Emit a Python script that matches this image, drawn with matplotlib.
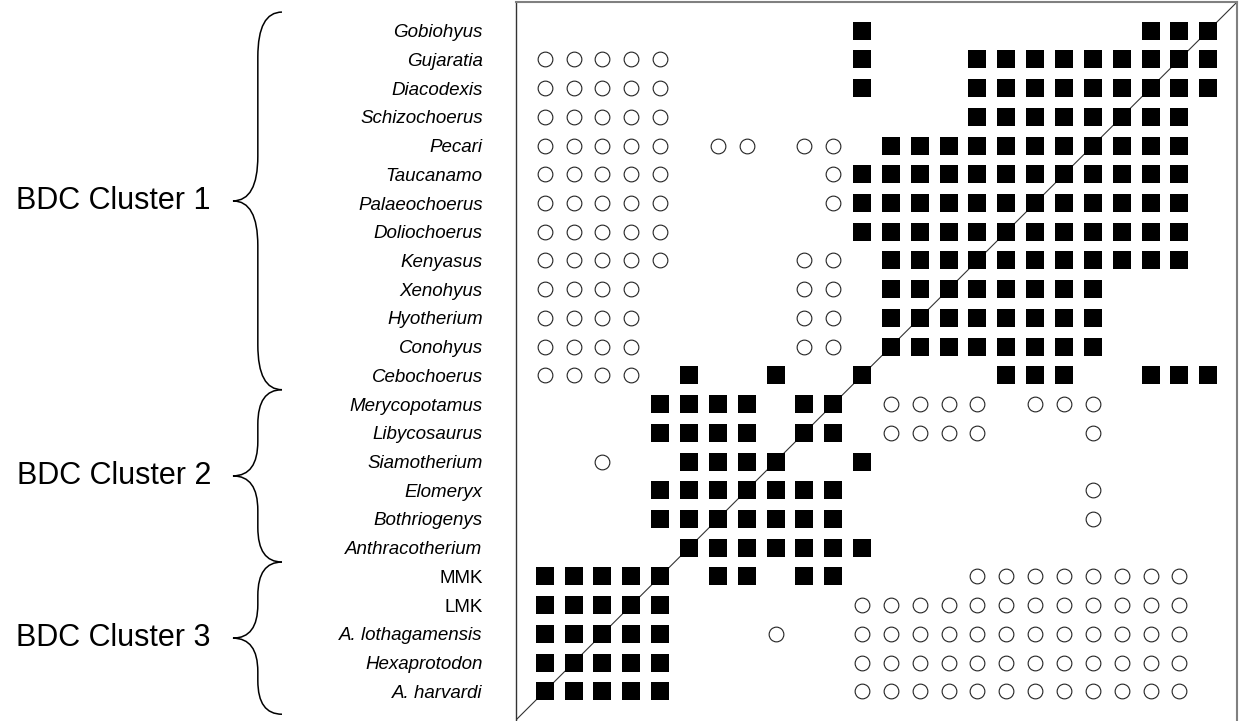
import matplotlib
matplotlib.use("Agg")
import matplotlib.pyplot as plt
from matplotlib.path import Path
from matplotlib.patches import PathPatch
from matplotlib.transforms import blended_transform_factory

plt.rcParams['font.family'] = ['Liberation Sans', 'DejaVu Sans']

# taxa, top to bottom; columns run in the reverse order (A. harvardi first)
taxa = ["Gobiohyus", "Gujaratia", "Diacodexis", "Schizochoerus", "Pecari",
        "Taucanamo", "Palaeochoerus", "Doliochoerus", "Kenyasus", "Xenohyus",
        "Hyotherium", "Conohyus", "Cebochoerus", "Merycopotamus", "Libycosaurus",
        "Siamotherium", "Elomeryx", "Bothriogenys", "Anthracotherium", "MMK",
        "LMK", "A. lothagamensis", "Hexaprotodon", "A. harvardi"]
upright = ["MMK", "LMK"]

# one string per row (same order as taxa): S = filled square, o = open circle
cells = [
    "...........S.........SSS",
    "ooooo......S...SSSSSSSSS",
    "ooooo......S...SSSSSSSSS",
    "ooooo..........SSSSSSSS.",
    "ooooo.oo.oo.SSSSSSSSSSS.",
    "ooooo.....oSSSSSSSSSSSS.",
    "ooooo.....oSSSSSSSSSSSS.",
    "ooooo......SSSSSSSSSSSS.",
    "ooooo....oo.SSSSSSSSSSS.",
    "oooo.....oo.SSSSSSSS....",
    "oooo.....oo.SSSSSSSS....",
    "oooo.....oo.SSSSSSSS....",
    "oooo.S..S..S....SSS..SSS",
    "....SSSS.SS.oooo.ooo....",
    "....SSSS.SS.oooo...o....",
    "..o..SSSS..S............",
    "....SSSSSSS........o....",
    "....SSSSSSS........o....",
    ".....SSSSSSS............",
    "SSSSS.SS.SS....oooooooo.",
    "SSSSS......oooooooooooo.",
    "SSSSS...o..oooooooooooo.",
    "SSSSS......oooooooooooo.",
    "SSSSS......oooooooooooo.",
]

clusters = ["BDC Cluster 1", "BDC Cluster 2", "BDC Cluster 3"]
cluster_sizes = [13, 6, 5]

n = len(taxa)
sq_x, sq_y, ci_x, ci_y = [], [], [], []
for r, row in enumerate(cells):
    y = n - 1 - r
    for c, ch in enumerate(row):
        if ch == "S":
            sq_x.append(c)
            sq_y.append(y)
        elif ch == "o":
            ci_x.append(c)
            ci_y.append(y)

fig = plt.figure(figsize=(12.43, 7.21), dpi=100)
ax = fig.add_axes([0.4151, 0.0014, 0.5801, 0.9958])

ax.plot([-1, n], [-1, n], color="#333333", lw=0.8, zorder=1)
ax.plot(sq_x, sq_y, ls="none", marker="s", ms=12.6, mfc="black", mec="black",
        mew=0, zorder=2)
ax.plot(ci_x, ci_y, ls="none", marker="o", ms=10.6, mfc="white", mec="#222222",
        mew=0.8, zorder=2)

ax.set_xlim(-1, n)
ax.set_ylim(-1, n)
ax.set_xticks([])
ax.set_yticks(range(n))
ax.set_yticklabels(taxa[::-1], fontsize=13.5)
for lab in ax.get_yticklabels():
    if lab.get_text() not in upright:
        lab.set_fontstyle("italic")
ax.tick_params(axis="y", length=0, pad=24)

for side in ["top", "right"]:
    ax.spines[side].set_color("#808080")
    ax.spines[side].set_linewidth(1.5)
ax.spines["left"].set_color("#333333")
ax.spines["left"].set_linewidth(1.0)
ax.spines["bottom"].set_visible(False)

# curly braces next to the taxon names
trans = blended_transform_factory(ax.transAxes, ax.transData)
xe, xm, xt = -0.3245, -0.358, -0.3925
top = n - 0.35
start = 0
for name, size in zip(clusters, cluster_sizes):
    yt = top if start == 0 else n - start - 0.5
    yb = n - start - size - 0.5
    if start + size == n:
        yb = -0.8
    ym = (yt + yb) / 2
    r = 0.9 + 0.05 * (yt - yb)
    verts = [(xe, yt), (xm, yt), (xm, yt - r), (xm, ym + r), (xm, ym), (xt, ym),
             (xm, ym), (xm, ym - r), (xm, yb + r), (xm, yb), (xe, yb)]
    codes = [Path.MOVETO, Path.CURVE3, Path.CURVE3, Path.LINETO, Path.CURVE3,
             Path.CURVE3, Path.CURVE3, Path.CURVE3, Path.LINETO, Path.CURVE3,
             Path.CURVE3]
    ax.add_patch(PathPatch(Path(verts, codes), fc="none", ec="black", lw=1.1,
                           transform=trans, clip_on=False))
    ax.text(-0.423, ym, name, transform=trans, ha="right", va="center",
            fontsize=22)
    start += size

fig.savefig("out.png", dpi=100)
